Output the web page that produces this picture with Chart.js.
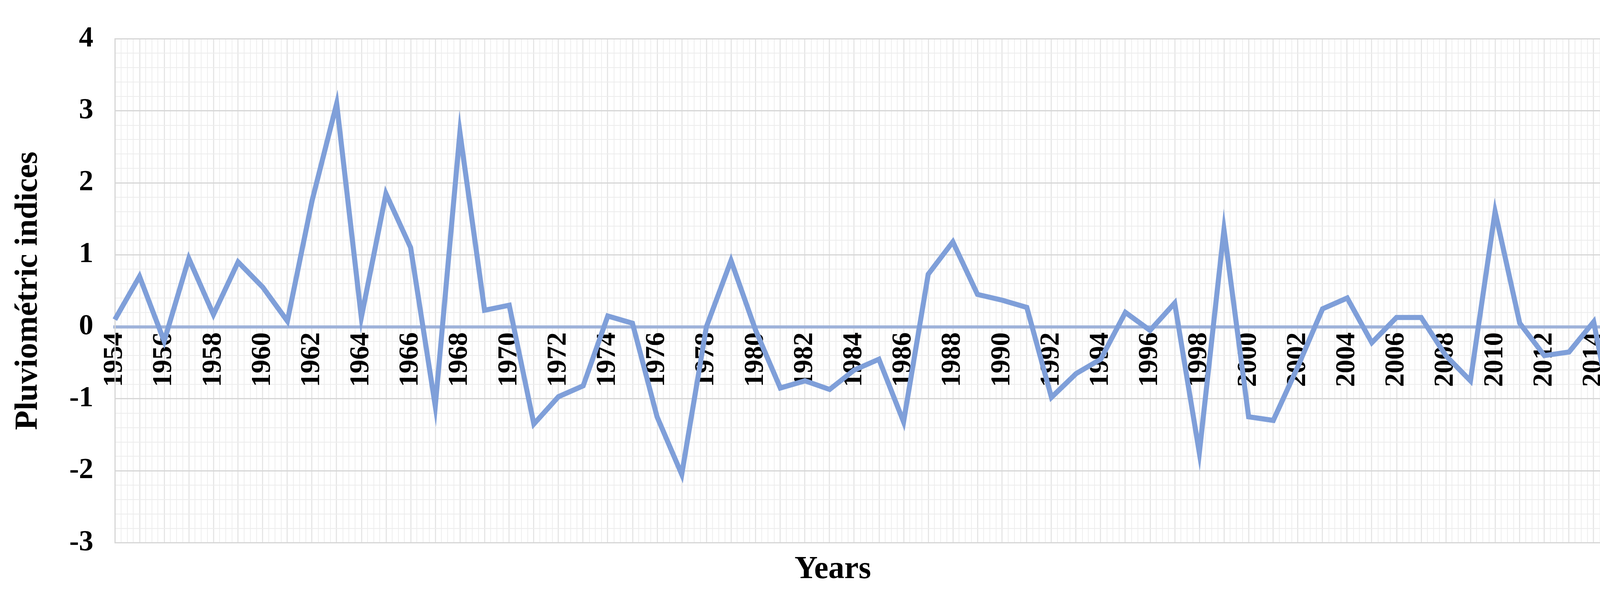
<!DOCTYPE html>
<html>
<head>
<meta charset="utf-8">
<script src="https://cdn.jsdelivr.net/npm/chart.js@4"></script>
<style>
  html, body { margin: 0; padding: 0; background: #fff; overflow: hidden; }
  #wrap { position: relative; width: 4304px; height: 1513px; }
</style>
</head>
<body>
<div id="wrap"><canvas id="chart"></canvas></div>
<script>
const years = [];
for (let y = 1954; y <= 2016; y++) years.push(String(y));

const indices = [
  0.1, 0.7, -0.2, 0.95, 0.17, 0.9, 0.55, 0.08, 1.75, 3.1,
  0.13, 1.85, 1.1, -1.1, 2.7, 0.23, 0.3, -1.35, -0.97, -0.82,
  0.15, 0.05, -1.25, -2.05, 0.0, 0.92, -0.05, -0.85, -0.75, -0.87,
  -0.6, -0.45, -1.32, 0.73, 1.18, 0.45, 0.37, 0.27, -0.98, -0.65,
  -0.45, 0.2, -0.05, 0.33, -1.75, 1.35, -1.25, -1.3, -0.55, 0.25,
  0.4, -0.22, 0.13, 0.13, -0.4, -0.75, 1.6, 0.05, -0.4, -0.35,
  0.07, -1.68, 0.68
];

const isInt = v => Math.abs(v - Math.round(v)) < 1e-6;
const serif = "'Liberation Serif', 'DejaVu Serif', serif";

new Chart(document.getElementById('chart'), {
  type: 'line',
  data: {
    labels: years,
    datasets: [{
      data: indices,
      borderColor: '#7f9fd9',
      borderWidth: 13,
      pointRadius: 0,
      tension: 0,
      fill: false
    }]
  },
  options: {
    responsive: true,
    maintainAspectRatio: false,
    animation: false,
    devicePixelRatio: 1,
    layout: { padding: { top: 40, right: 60, bottom: 5, left: 20 } },
    plugins: {
      legend: { display: false },
      tooltip: { enabled: false },
      title: {
        display: true,
        position: 'bottom',
        text: 'Years',
        color: '#000',
        font: { family: serif, size: 82, weight: 'bold' },
        padding: { top: 20, bottom: 0 }
      }
    },
    scales: {
      x: {
        position: { y: 0 },
        offset: false,
        grid: { color: '#d6d6d6', lineWidth: 3, drawTicks: false },
        border: { color: '#9fb3da', width: 8 },
        ticks: {
          autoSkip: false,
          minRotation: 90,
          maxRotation: 90,
          padding: 14,
          color: '#000',
          font: { family: serif, size: 70, weight: 'bold' },
          callback: (v, i) => i % 2 === 0 ? years[i] : ''
        }
      },
      xm: {
        type: 'linear',
        min: 0,
        max: 62,
        display: true,
        position: 'bottom',
        ticks: { display: false, stepSize: 0.25 },
        grid: { color: '#eeeeee', lineWidth: 2, drawTicks: false },
        border: { display: false }
      },
      y: {
        min: -3,
        max: 4,
        grid: {
          drawTicks: false,
          color: c => isInt(c.tick.value) ? '#d6d6d6' : '#ececec',
          lineWidth: c => isInt(c.tick.value) ? 3 : 2
        },
        border: { color: '#d6d6d6', width: 3 },
        ticks: {
          stepSize: 0.2,
          autoSkip: false,
          padding: 55,
          color: '#000',
          font: { family: serif, size: 74, weight: 'bold' },
          callback: v => isInt(v) ? String(Math.round(v)) : ''
        },
        title: {
          display: true,
          text: 'Pluviométric indices',
          color: '#000',
          font: { family: serif, size: 82, weight: 'bold' },
          padding: { bottom: 0 }
        }
      }
    }
  }
});
</script>
</body>
</html>
